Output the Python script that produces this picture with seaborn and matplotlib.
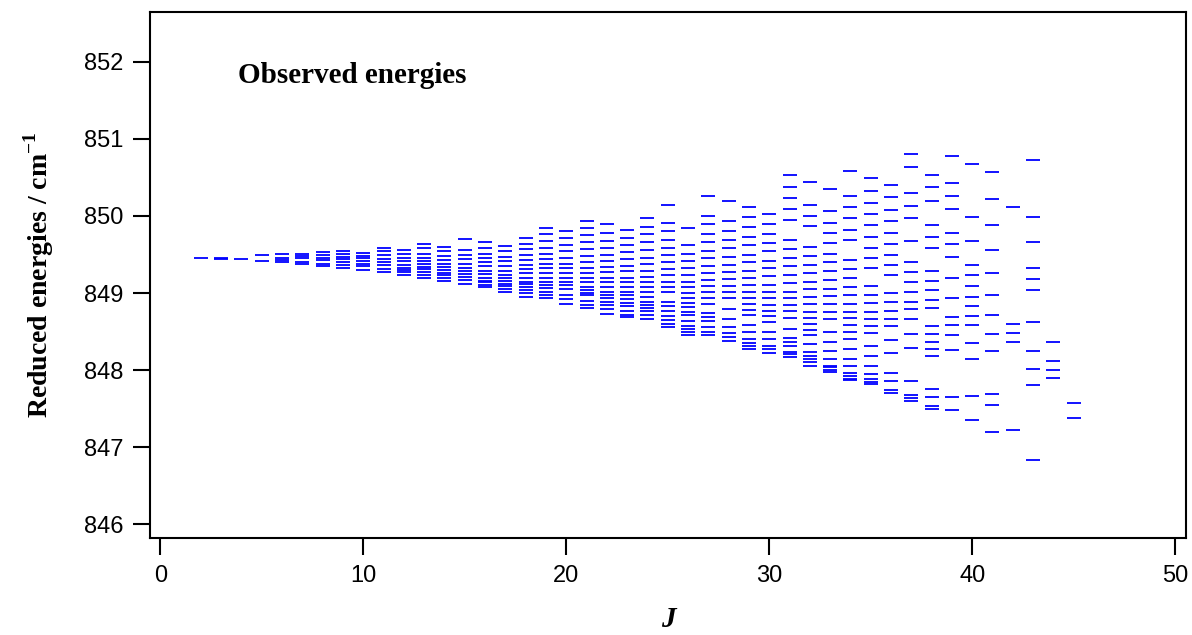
import pandas as pd
import matplotlib
matplotlib.use('Agg')
import matplotlib.pyplot as plt
import seaborn as sns

# Observed reduced energy levels (cm-1) for each J
e_j02 = [849.45]
e_j03 = [849.46, 849.44]
e_j04 = [849.44]
e_j05 = [849.49, 849.42]
e_j06 = [849.51, 849.46, 849.43, 849.40]
e_j07 = [849.51, 849.48, 849.45, 849.40, 849.38]
e_j08 = [849.53, 849.49, 849.46, 849.43, 849.38, 849.35]
e_j09 = [849.55, 849.51, 849.47, 849.44, 849.40, 849.36, 849.33]
e_j10 = [849.52, 849.48, 849.45, 849.41, 849.38, 849.35, 849.30]
e_j11 = [849.59, 849.55, 849.49, 849.44, 849.40, 849.36, 849.31, 849.27]
e_j12 = [849.56, 849.51, 849.45, 849.41, 849.37, 849.33, 849.30, 849.27, 849.23]
e_j13 = [849.64, 849.58, 849.51, 849.46, 849.42, 849.38, 849.34, 849.31,
         849.27, 849.24, 849.20]
e_j14 = [849.60, 849.54, 849.48, 849.43, 849.38, 849.34, 849.30, 849.26,
         849.23, 849.20, 849.16]
e_j15 = [849.70, 849.56, 849.50, 849.44, 849.38, 849.33, 849.29, 849.25,
         849.21, 849.17, 849.12]
e_j16 = [849.66, 849.58, 849.51, 849.45, 849.40, 849.35, 849.29, 849.25,
         849.20, 849.16, 849.14, 849.11, 849.08]
e_j17 = [849.61, 849.54, 849.47, 849.41, 849.35, 849.29, 849.24, 849.20,
         849.16, 849.12, 849.09, 849.05, 849.01]
e_j18 = [849.72, 849.64, 849.57, 849.50, 849.43, 849.37, 849.31, 849.26,
         849.20, 849.15, 849.12, 849.08, 849.04, 849.00, 848.95]
e_j19 = [849.85, 849.76, 849.67, 849.59, 849.51, 849.44, 849.38, 849.32,
         849.26, 849.20, 849.15, 849.11, 849.07, 849.01, 848.97, 848.93]
e_j20 = [849.80, 849.71, 849.62, 849.54, 849.46, 849.38, 849.32, 849.26,
         849.19, 849.14, 849.10, 849.05, 848.97, 848.92, 848.86]
e_j21 = [849.94, 849.85, 849.75, 849.66, 849.57, 849.48, 849.40, 849.33,
         849.26, 849.19, 849.14, 849.08, 849.04, 849.00, 848.97, 848.90,
         848.85, 848.80]
e_j22 = [849.89, 849.78, 849.68, 849.59, 849.50, 849.42, 849.34, 849.27,
         849.20, 849.14, 849.08, 849.02, 848.98, 848.94, 848.89, 848.84,
         848.79, 848.73]
e_j23 = [849.82, 849.72, 849.62, 849.53, 849.44, 849.35, 849.28, 849.20,
         849.14, 849.08, 849.02, 848.97, 848.92, 848.87, 848.83, 848.77,
         848.72, 848.69]
e_j24 = [849.98, 849.86, 849.76, 849.66, 849.56, 849.46, 849.38, 849.29,
         849.21, 849.14, 849.08, 849.01, 848.95, 848.89, 848.85, 848.81,
         848.77, 848.71, 848.66]
e_j25 = [850.14, 849.91, 849.80, 849.69, 849.59, 849.49, 849.40, 849.31,
         849.23, 849.15, 849.08, 849.01, 848.88, 848.83, 848.77, 848.70,
         848.65, 848.60, 848.56]
e_j26 = [849.84, 849.62, 849.51, 849.42, 849.33, 849.24, 849.15, 849.08,
         849.00, 848.93, 848.87, 848.82, 848.76, 848.71, 848.64, 848.57,
         848.53, 848.50, 848.46]
e_j27 = [850.26, 850.00, 849.89, 849.77, 849.66, 849.55, 849.45, 849.35,
         849.26, 849.17, 849.09, 849.01, 848.93, 848.86, 848.74, 848.69,
         848.64, 848.56, 848.50, 848.45]
e_j28 = [850.19, 849.94, 849.81, 849.69, 849.58, 849.47, 849.37, 849.27,
         849.18, 849.09, 849.01, 848.93, 848.79, 848.66, 848.56, 848.48,
         848.43, 848.38]
e_j29 = [850.12, 849.99, 849.86, 849.73, 849.62, 849.50, 849.40, 849.29,
         849.19, 849.10, 849.01, 848.93, 848.86, 848.78, 848.71, 848.58,
         848.49, 848.40, 848.35, 848.31, 848.28]
e_j30 = [850.03, 849.90, 849.77, 849.65, 849.54, 849.42, 849.32, 849.22,
         849.11, 849.02, 848.93, 848.84, 848.77, 848.70, 848.62, 848.50,
         848.40, 848.32, 848.28, 848.22]
e_j31 = [850.53, 850.37, 850.23, 850.09, 849.95, 849.69, 849.57, 849.45,
         849.35, 849.23, 849.13, 849.02, 848.93, 848.84, 848.77, 848.68,
         848.54, 848.42, 848.37, 848.31, 848.24, 848.21, 848.17]
e_j32 = [850.44, 850.14, 850.00, 849.87, 849.60, 849.48, 849.37, 849.26,
         849.14, 849.05, 848.95, 848.86, 848.76, 848.68, 848.60, 848.52,
         848.46, 848.34, 848.24, 848.18, 848.15, 848.11, 848.06]
e_j33 = [850.35, 850.06, 849.91, 849.78, 849.65, 849.51, 849.40, 849.28,
         849.17, 849.05, 848.96, 848.86, 848.76, 848.67, 848.50, 848.37,
         848.25, 848.14, 848.06, 848.04, 848.00, 847.97]
e_j34 = [850.58, 850.26, 850.12, 849.97, 849.82, 849.69, 849.43, 849.31,
         849.19, 849.08, 848.97, 848.86, 848.76, 848.68, 848.59, 848.50,
         848.41, 848.28, 848.15, 848.05, 847.96, 847.93, 847.89, 847.87]
e_j35 = [850.49, 850.33, 850.17, 850.03, 849.88, 849.73, 849.59, 849.46,
         849.33, 849.09, 848.98, 848.87, 848.76, 848.67, 848.57, 848.48,
         848.32, 848.18, 848.06, 847.95, 847.88, 847.85, 847.82]
e_j36 = [850.40, 850.24, 850.08, 849.93, 849.78, 849.64, 849.50, 849.37,
         849.24, 849.00, 848.88, 848.77, 848.67, 848.57, 848.39, 848.22,
         847.96, 847.86, 847.74, 847.71]
e_j37 = [850.80, 850.64, 850.30, 850.13, 849.98, 849.68, 849.40, 849.27,
         849.14, 849.02, 848.89, 848.79, 848.67, 848.47, 848.29, 847.86,
         847.68, 847.64, 847.60]
e_j38 = [850.53, 850.37, 850.19, 849.88, 849.73, 849.58, 849.29, 849.16,
         849.04, 848.91, 848.80, 848.57, 848.47, 848.37, 848.27, 848.18,
         847.75, 847.65, 847.53, 847.50]
e_j39 = [850.78, 850.43, 850.26, 850.09, 849.78, 849.63, 849.47, 849.19,
         848.93, 848.69, 848.58, 848.46, 848.26, 847.65, 847.49]
e_j40 = [850.67, 849.99, 849.67, 849.37, 849.23, 849.09, 848.95, 848.83,
         848.70, 848.58, 848.35, 848.15, 847.66, 847.36]
e_j41 = [850.57, 850.22, 849.88, 849.56, 849.26, 848.98, 848.71, 848.47,
         848.25, 847.69, 847.55, 847.20]
e_j42 = [850.11, 848.60, 848.48, 848.36, 847.22]
e_j43 = [850.72, 849.99, 849.66, 849.33, 849.18, 849.04, 848.62, 848.25,
         848.02, 847.81, 846.84]
e_j44 = [848.37, 848.12, 848.00, 847.90]
e_j45 = [847.58, 847.38]

levels_by_J = {
    2: e_j02, 3: e_j03, 4: e_j04, 5: e_j05, 6: e_j06, 7: e_j07, 8: e_j08,
    9: e_j09, 10: e_j10, 11: e_j11, 12: e_j12, 13: e_j13, 14: e_j14,
    15: e_j15, 16: e_j16, 17: e_j17, 18: e_j18, 19: e_j19, 20: e_j20,
    21: e_j21, 22: e_j22, 23: e_j23, 24: e_j24, 25: e_j25, 26: e_j26,
    27: e_j27, 28: e_j28, 29: e_j29, 30: e_j30, 31: e_j31, 32: e_j32,
    33: e_j33, 34: e_j34, 35: e_j35, 36: e_j36, 37: e_j37, 38: e_j38,
    39: e_j39, 40: e_j40, 41: e_j41, 42: e_j42, 43: e_j43, 44: e_j44,
    45: e_j45,
}

rows = [(j, e) for j, lv in levels_by_J.items() for e in lv]
df = pd.DataFrame(rows, columns=['J', 'energy'])

sns.set_style('ticks')
plt.rcParams['font.family'] = ['Liberation Sans', 'DejaVu Sans']
plt.rcParams['mathtext.fontset'] = 'custom'
plt.rcParams['mathtext.rm'] = 'Liberation Serif'
plt.rcParams['mathtext.bf'] = 'Liberation Serif:bold'
for key in ['text.color', 'axes.labelcolor', 'xtick.color', 'ytick.color',
            'axes.edgecolor']:
    plt.rcParams[key] = 'black'

fig = plt.figure(figsize=(11.92, 6.35), dpi=100)
ax = fig.add_axes([0.1258, 0.1523, 0.8691, 0.8288])

# each level drawn as a short horizontal dash
sns.scatterplot(data=df, x='J', y='energy', marker='_', s=105,
                color='#0000ff', linewidth=1.3, ax=ax, legend=False)

ax.set_xlim(-0.51, 50.53)
ax.set_ylim(845.82, 852.645)
ax.set_xticks([0, 10, 20, 30, 40, 50])
ax.set_yticks([846, 847, 848, 849, 850, 851, 852])
ax.tick_params(direction='out', length=12, width=1.5, labelsize=17,
               colors='black', pad=7)
for sp in ax.spines.values():
    sp.set_linewidth(1.5)
    sp.set_color('black')

ax.set_xlabel('J', fontsize=21, fontweight='bold', fontstyle='italic',
              family='Liberation Serif', labelpad=14)
ax.set_ylabel(r'Reduced energies / cm$^{\mathbf{-1}}$', fontsize=20,
              fontweight='bold', family='Liberation Serif', labelpad=20)

ax.text(0.085, 0.865, 'Observed energies', transform=ax.transAxes,
        fontsize=21, fontweight='bold', family='Liberation Serif',
        va='baseline', ha='left')

plt.savefig('out.png', dpi=100)
